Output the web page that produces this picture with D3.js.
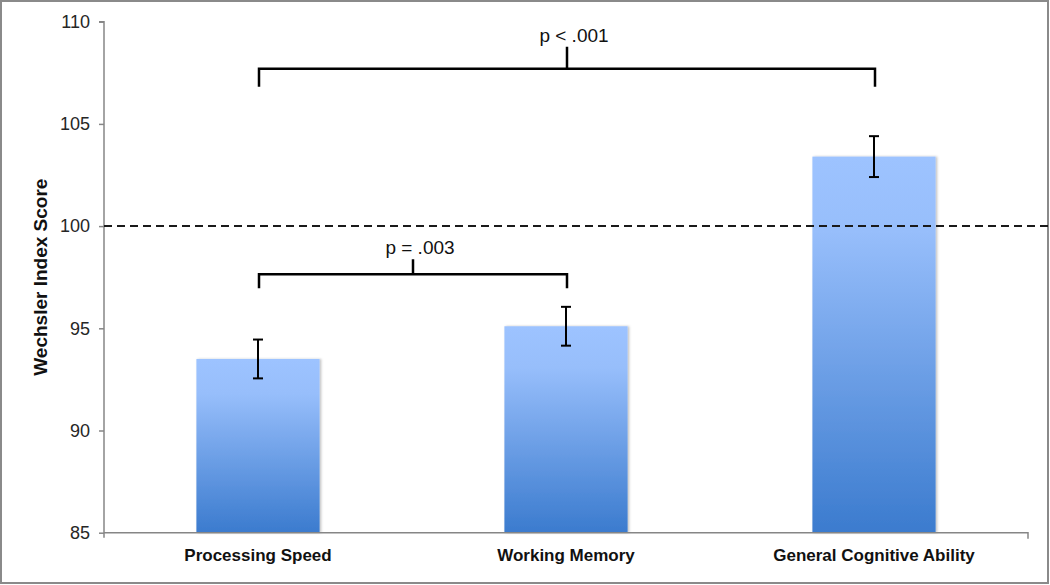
<!DOCTYPE html>
<html>
<head>
<meta charset="utf-8">
<script src="https://cdn.jsdelivr.net/npm/d3@7"></script>
<style>
  html, body { margin: 0; padding: 0; background: #fff; }
  svg { display: block; }
</style>
</head>
<body>
<svg id="chart" width="1050" height="585"></svg>
<script>
// ---- data ----
const categories = ["Processing Speed", "Working Memory", "General Cognitive Ability"];
const means = [93.5, 95.1, 103.4];
const errors = [0.95, 0.95, 1.0];
const yTicks = [85, 90, 95, 100, 105, 110];
const referenceValue = 100;
const brackets = [
  { from: 0, to: 1, level: 97.65, label: "p = .003" },
  { from: 0, to: 2, level: 107.7, label: "p < .001" }
];
const yLabel = "Wechsler Index Score";

// ---- layout ----
const svg = d3.select("#chart");
const plotLeft = 104, plotRight = 1028, plotTop = 21.7, plotBottom = 532.7;

const x = d3.scaleBand().domain(categories).range([plotLeft, plotRight])
  .paddingInner(0.6).paddingOuter(0.3);
const y = d3.scaleLinear().domain([85, 110]).range([plotBottom, plotTop]);

// gradient
const defs = svg.append("defs");
const grad = defs.append("linearGradient").attr("id", "barGrad")
  .attr("x1", 0).attr("y1", 0).attr("x2", 0).attr("y2", 1);
grad.append("stop").attr("offset", "0%").attr("stop-color", "#9DC3FF");
grad.append("stop").attr("offset", "20%").attr("stop-color", "#97BEFB");
grad.append("stop").attr("offset", "100%").attr("stop-color", "#3B7BCE");
const f = defs.append("filter").attr("id", "shadow").attr("x", "-10%").attr("y", "-10%")
  .attr("width", "130%").attr("height", "130%");
f.append("feDropShadow").attr("dx", 1.5).attr("dy", 0).attr("stdDeviation", 1.2)
  .attr("flood-color", "#000").attr("flood-opacity", 0.25);

// outer border
svg.append("rect").attr("x", 1).attr("y", 1).attr("width", 1047).attr("height", 582)
  .attr("fill", "none").attr("stroke", "#8a8a8a").attr("stroke-width", 2);

// bars
svg.append("g").selectAll("rect").data(categories).join("rect")
  .attr("x", d => x(d))
  .attr("y", (d, i) => y(means[i]))
  .attr("width", x.bandwidth())
  .attr("height", (d, i) => y(85) - y(means[i]))
  .attr("fill", "url(#barGrad)")
  .attr("filter", "url(#shadow)");

// y axis
const yAxis = d3.axisLeft(y).tickValues(yTicks).tickSize(5).tickPadding(9);
const gy = svg.append("g").attr("transform", `translate(${plotLeft},0)`).call(yAxis);
gy.select(".domain").attr("stroke", "#868686").attr("stroke-width", 1.5)
  .attr("d", `M-5,${plotTop}H0V${plotBottom + 5}`);
gy.selectAll(".tick line").attr("stroke", "#868686").attr("stroke-width", 1.5);
gy.selectAll(".tick text").attr("fill", "#262626")
  .style("font-family", "'Liberation Sans', Arial, sans-serif").style("font-size", "18px");

// x axis
const xAxis = d3.axisBottom(x).tickSize(0).tickPadding(16);
const gx = svg.append("g").attr("transform", `translate(0,${plotBottom})`).call(xAxis);
gx.select(".domain").attr("stroke", "#868686").attr("stroke-width", 1.5)
  .attr("d", `M${plotLeft},0H${plotRight}V6`);
gx.selectAll(".tick text").attr("fill", "#111")
  .style("font-family", "'Liberation Sans', Arial, sans-serif")
  .style("font-size", "17px").style("font-weight", "bold");

// reference line
svg.append("line")
  .attr("x1", plotLeft).attr("x2", 1048)
  .attr("y1", y(referenceValue)).attr("y2", y(referenceValue))
  .attr("stroke", "#1a1a1a").attr("stroke-width", 2)
  .attr("stroke-dasharray", "8,5");

// error bars
const cx = d => x(d) + x.bandwidth() / 2;
const eb = svg.append("g").attr("stroke", "#000").attr("stroke-width", 2).attr("fill", "none");
categories.forEach((c, i) => {
  const hi = y(means[i] + errors[i]), lo = y(means[i] - errors[i]);
  eb.append("line").attr("x1", cx(c)).attr("x2", cx(c)).attr("y1", hi).attr("y2", lo);
  eb.append("line").attr("x1", cx(c) - 5).attr("x2", cx(c) + 5).attr("y1", hi).attr("y2", hi);
  eb.append("line").attr("x1", cx(c) - 5).attr("x2", cx(c) + 5).attr("y1", lo).attr("y2", lo);
});

// significance brackets
const drops = [14, 18], rises = [15, 22];
brackets.forEach((b, k) => {
  const x1 = cx(categories[b.from]) + 1, x2 = cx(categories[b.to]) + 1;
  const yy = y(b.level);
  const mid = (x1 + x2) / 2;
  svg.append("path")
    .attr("d", `M${x1},${yy + drops[k]}V${yy}H${x2}V${yy + drops[k]}M${mid},${yy}V${yy - rises[k]}`)
    .attr("fill", "none").attr("stroke", "#000").attr("stroke-width", 2.5);
  svg.append("text").attr("x", mid + 7).attr("y", yy - rises[k] - 5)
    .attr("text-anchor", "middle")
    .style("font-family", "'Liberation Sans', Arial, sans-serif").style("font-size", "19px")
    .attr("fill", "#111").text(b.label);
});

// y label
svg.append("text")
  .attr("transform", `translate(47,${(plotTop + plotBottom) / 2}) rotate(-90)`)
  .attr("text-anchor", "middle")
  .style("font-family", "'Liberation Sans', Arial, sans-serif")
  .style("font-size", "19px").style("font-weight", "bold").attr("fill", "#111")
  .text(yLabel);
</script>
</body>
</html>
